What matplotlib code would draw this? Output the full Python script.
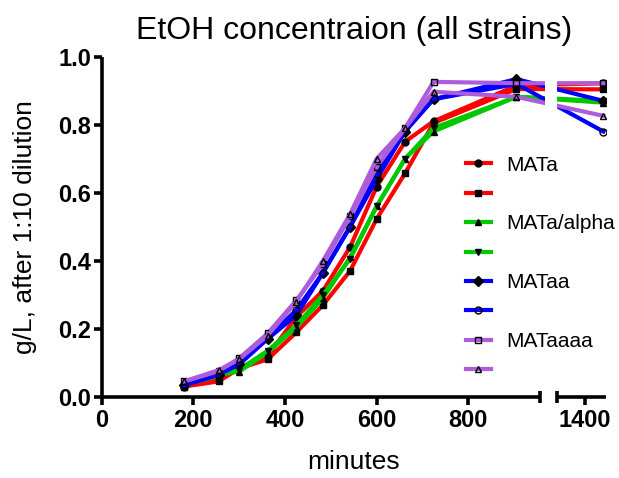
import numpy as np
import matplotlib
matplotlib.use("Agg")
import matplotlib.pyplot as plt
from matplotlib.patches import Rectangle
import matplotlib.transforms as mtransforms

plt.rcParams['font.family'] = ['Liberation Sans', 'DejaVu Sans']

# sampling times (minutes)
minutes = [180, 255, 300, 362, 425, 483, 542, 600, 662, 724, 905, 1440]

# EtOH, g/L after 1:10 dilution
mata_1 = [0.030, 0.055, 0.085, 0.120, 0.235, 0.312, 0.440, 0.618, 0.750, 0.810, 0.915, 0.922]
mata_2 = [0.030, 0.045, 0.083, 0.110, 0.190, 0.270, 0.370, 0.523, 0.657, 0.805, 0.905, 0.904]
mataalpha_1 = [0.035, 0.065, 0.074, 0.130, 0.205, 0.290, 0.410, 0.560, 0.700, 0.780, 0.882, 0.865]
mataalpha_2 = [0.035, 0.062, 0.080, 0.135, 0.210, 0.300, 0.405, 0.560, 0.700, 0.790, 0.882, 0.870]
mataa_1 = [0.035, 0.065, 0.095, 0.170, 0.240, 0.365, 0.500, 0.640, 0.780, 0.875, 0.934, 0.870]
mataa_2 = [0.033, 0.065, 0.100, 0.175, 0.255, 0.365, 0.500, 0.655, 0.785, 0.875, 0.920, 0.780]
mataaaa_1 = [0.045, 0.075, 0.113, 0.186, 0.284, 0.390, 0.530, 0.676, 0.790, 0.926, 0.922, 0.922]
mataaaa_2 = [0.045, 0.078, 0.110, 0.180, 0.280, 0.400, 0.537, 0.700, 0.790, 0.897, 0.882, 0.826]

labels = ["MATa", "", "MATa/alpha", "", "MATaa", "", "MATaaaa", ""]
x_ticks = [0, 200, 400, 600, 800, 1400]
y_ticks = [0.0, 0.2, 0.4, 0.6, 0.8, 1.0]

RED, GREEN, BLUE, PURPLE = "#ff0000", "#00c800", "#0000ff", "#ad5cdc"
series = [
    (mata_1, RED, "o", "black"),
    (mata_2, RED, "s", "black"),
    (mataalpha_1, GREEN, "^", "black"),
    (mataalpha_2, GREEN, "v", "black"),
    (mataa_1, BLUE, "D", "black"),
    (mataa_2, BLUE, "o", "none"),
    (mataaaa_1, PURPLE, "s", "none"),
    (mataaaa_2, PURPLE, "^", "none"),
]

# broken x axis: 0-956 and 1339-1445, compressed gap in between
BRK_L, BRK_R, GAP = 956.0, 1339.0, 37.6
X_MAX = 1445
PX_PER_MIN = 0.4583


def fwd(x):
    x = np.asarray(x, dtype=float)
    return np.where(x <= BRK_L, x,
                    np.where(x >= BRK_R, x - BRK_R + BRK_L + GAP,
                             BRK_L + (x - BRK_L) * GAP / (BRK_R - BRK_L)))


def inv(u):
    u = np.asarray(u, dtype=float)
    return np.where(u <= BRK_L, u,
                    np.where(u >= BRK_L + GAP, u - BRK_L - GAP + BRK_R,
                             BRK_L + (u - BRK_L) * (BRK_R - BRK_L) / GAP))


W, H = 619, 478
x0_px, y0_px = 101.7, 396.7
ax_w_px = float(fwd(X_MAX)) * PX_PER_MIN
fig = plt.figure(figsize=(W / 100, H / 100), dpi=100)
ax = fig.add_axes([x0_px / W, (H - y0_px) / H, ax_w_px / W, 340 / H])
ax.set_xscale('function', functions=(fwd, inv))

handles = []
for vals, col, mk, mfc in series:
    ln, = ax.plot(minutes, vals, color=col, lw=3.0, marker=mk, ms=5,
                  mfc=mfc, mec="black", mew=1.0,
                  solid_joinstyle="miter", zorder=2)
    handles.append(ln)

ax.set_xlim(0, X_MAX)
ax.set_ylim(0, 1.0)

# hide lines across the axis break
gx0 = float(inv(967.0))
gx1 = float(inv(993.0))
ax.add_patch(Rectangle((gx0, 0.7), gx1 - gx0, 0.3, facecolor="white",
                       edgecolor="none", zorder=3))

for s in ["top", "right", "bottom"]:
    ax.spines[s].set_visible(False)
ax.spines["left"].set_linewidth(2.6)
ax.spines["left"].set_capstyle("butt")

# bottom axis drawn as two segments with end caps
trans = mtransforms.blended_transform_factory(ax.transData, ax.transAxes)
for xa, xb in [(0, BRK_L), (BRK_R, X_MAX)]:
    ax.plot([xa, xb], [0, 0], color="black", lw=2.6, transform=trans,
            clip_on=False, solid_capstyle="butt", zorder=4)
for xc in [BRK_L, BRK_R]:
    ax.plot([xc, xc], [-0.018, 0.018], color="black", lw=2.6, transform=trans,
            clip_on=False, solid_capstyle="butt", zorder=4)

ax.set_xticks(x_ticks)
ax.set_xticklabels([str(t) for t in x_ticks])
ax.set_yticks(y_ticks)
ax.set_yticklabels([f"{t:.1f}" for t in y_ticks])
ax.xaxis.set_minor_locator(matplotlib.ticker.NullLocator())
ax.tick_params(axis="both", direction="out", length=6, width=2.6, labelsize=17)
ax.tick_params(axis="x", pad=3)
ax.tick_params(axis="y", pad=1.5)
for lab in ax.get_xticklabels() + ax.get_yticklabels():
    lab.set_fontweight("bold")

ax.set_xlabel("minutes", fontsize=19, labelpad=13)
ax.set_ylabel("g/L, after 1:10 dilution", fontsize=19, labelpad=15)
ax.set_title("EtOH concentraion (all strains)", fontsize=23, pad=13)

leg = ax.legend(handles, labels, loc="upper left",
                bbox_to_anchor=(451 / W, (H - 141) / H), bbox_transform=fig.transFigure,
                frameon=False, fontsize=15, handlelength=1.2, handletextpad=0.75,
                labelspacing=0.5, borderpad=0.2)
leg.set_zorder(5)

fig.savefig("out.png", dpi=100)
